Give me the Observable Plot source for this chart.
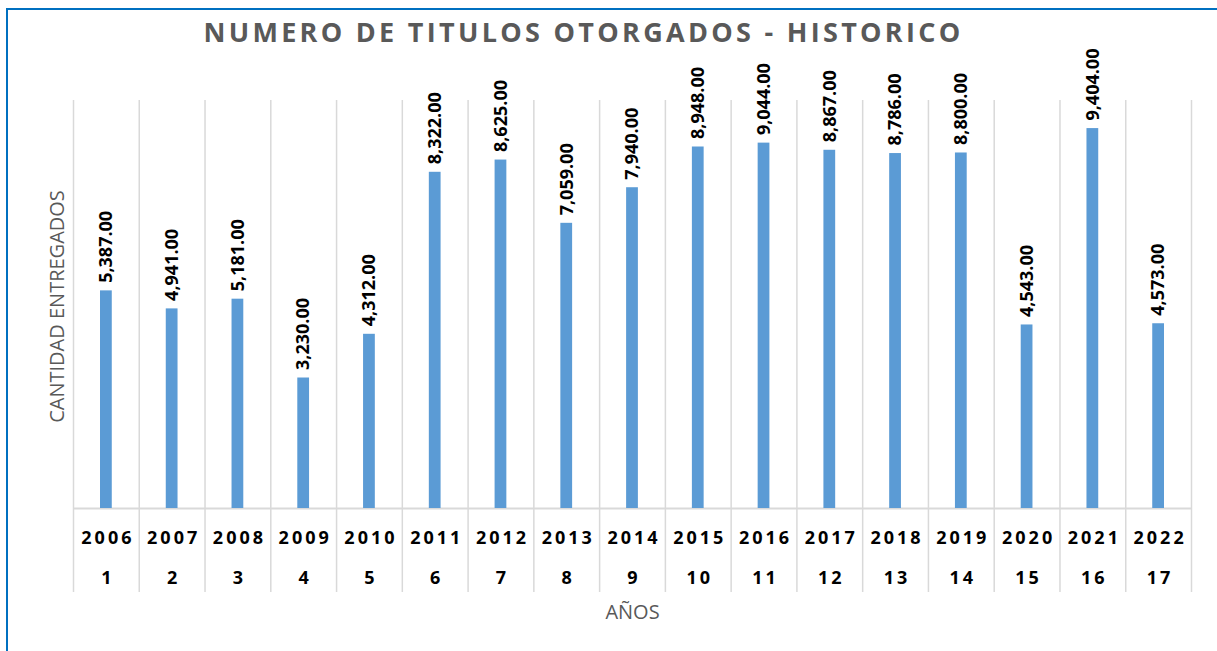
<!DOCTYPE html>
<html>
<head>
<meta charset="utf-8">
<script src="https://cdn.jsdelivr.net/npm/d3@7"></script>
<script src="https://cdn.jsdelivr.net/npm/@observablehq/plot@0.6"></script>
<style>
  html, body { margin: 0; padding: 0; background: #fff; overflow: hidden; width: 1217px; height: 651px; }
  #wrap { position: relative; width: 1217px; height: 651px; }
  #border { position: absolute; left: 6px; top: 8px; width: 1300px; height: 700px; border: 2px solid #0070C0; box-sizing: border-box; }
  #chart { position: absolute; left: 0; top: 0; }
</style>
</head>
<body>
<div id="wrap"><div id="border"></div><div id="chart"></div></div>
<script>
const years = ["2006","2007","2008","2009","2010","2011","2012","2013","2014","2015","2016","2017","2018","2019","2020","2021","2022"];
const indices = ["1","2","3","4","5","6","7","8","9","10","11","12","13","14","15","16","17"];
const values = [5387, 4941, 5181, 3230, 4312, 8322, 8625, 7059, 7940, 8948, 9044, 8867, 8786, 8800, 4543, 9404, 4573];
const title = "NUMERO DE TITULOS OTORGADOS - HISTORICO";
const yTitle = "CANTIDAD ENTREGADOS";
const xTitle = "AÑOS";

const data = years.map((y, i) => ({year: y, n: indices[i], value: values[i]}));

const W = 1217, H = 651;
const mL = 73, mR = 26, mT = 104, mB = 143;
const bw = (W - mL - mR) / years.length;
const grid = "#d9d9d9";
const fmt = d3.format(",.2f");
const FF = "Open Sans";

const svg = Plot.plot({
  width: W, height: H,
  marginLeft: mL, marginRight: mR, marginTop: mT, marginBottom: mB,
  style: {background: "transparent", fontFamily: FF},
  x: {type: "band", domain: years, padding: 0, round: false, axis: null},
  y: {domain: [0, 10000], axis: null},
  marks: [
    Plot.ruleX(years, {x: d => d, dx: -bw / 2, stroke: grid, strokeWidth: 1.5, insetTop: -4, insetBottom: -84}),
    Plot.ruleX([years[years.length - 1]], {x: d => d, dx: bw / 2, stroke: grid, strokeWidth: 1.5, insetTop: -4, insetBottom: -84}),
    Plot.ruleY([0], {stroke: grid, strokeWidth: 2}),
    Plot.barY(data, {x: "year", y: "value", fill: "#5B9BD5", insetLeft: 27, insetRight: 27}),
    Plot.text(data, {x: "year", y: "value", text: d => fmt(d.value), rotate: -90, textAnchor: "start", dy: -8, fontWeight: "bold", fontSize: 18, fill: "#000", fontFamily: FF}),
    Plot.text(data, {x: "year", y: () => 0, text: "year", dy: 30, dx: 1.5, fontWeight: "bold", fontSize: 18, fill: "#000", fontFamily: FF}),
    Plot.text(data, {x: "year", y: () => 0, text: "n", dy: 70, dx: 1.5, fontWeight: "bold", fontSize: 18, fill: "#000", fontFamily: FF}),
    Plot.text([title], {frameAnchor: "top", lineAnchor: "middle", textAnchor: "middle", dy: -71, dx: -49, fontWeight: "bold", fontSize: 27, fill: "#595959", fontFamily: FF}),
    Plot.text([yTitle], {frameAnchor: "left", textAnchor: "middle", lineAnchor: "middle", dx: -16, rotate: -90, fontSize: 20, fill: "#595959", fontFamily: FF}),
    Plot.text([xTitle], {frameAnchor: "bottom", textAnchor: "middle", lineAnchor: "middle", dy: 104, fontSize: 20, fill: "#595959", fontFamily: FF})
  ]
});

const s = d3.select(svg);
s.selectAll("text").each(function() {
  const t = this.textContent;
  if (years.includes(t) || indices.includes(t)) this.style.letterSpacing = "3px";
  else if (t === title) this.style.letterSpacing = "3.3px";
});
document.getElementById("chart").appendChild(svg);
</script>
</body>
</html>
